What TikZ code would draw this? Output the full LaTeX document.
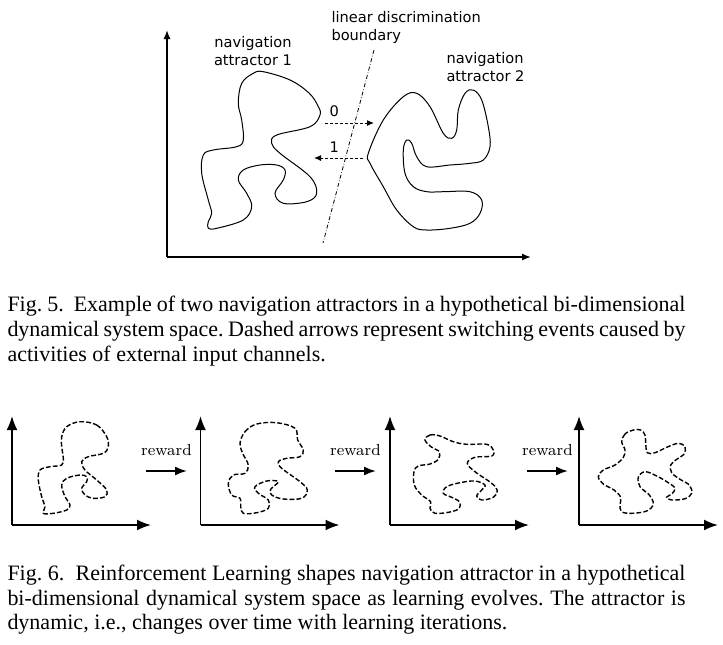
\documentclass[tikz,border=0pt]{standalone}
\usepackage{fontspec}
\newfontfamily\capfont{Liberation Serif}
\newfontfamily\lblfont{DejaVu Sans}
\usetikzlibrary{arrows.meta,positioning}
\frenchspacing

\begin{document}
\begin{tikzpicture}[x=0.5pt,y=-0.5pt,every path/.style={line width=0.5pt}]
  \tikzset{lbl/.style={font=\lblfont\fontsize{7.3}{9}\selectfont,inner sep=0pt}};
  \tikzset{capline/.style={font=\capfont\fontsize{11}{12.3}\selectfont,inner sep=0pt,anchor=base west}};
  \tikzset{attractor/.style={line width=0.5pt}};
  \tikzset{learnt/.style={line width=0.7pt,dash pattern=on 2.4pt off 1.1pt}};
  \tikzset{axis/.style={line width=0.7pt,-{Latex[length=4.5pt,width=3.5pt]}}};
  \tikzset{paxis/.style={line width=0.9pt,-{Latex[length=7pt,width=5.5pt]}}};
  \tikzset{switch/.style={dash pattern=on 1.5pt off 1pt,-{Latex[length=3.5pt,width=3pt]}}};
  \useasboundingbox (0,0) rectangle (723,644);
  % Fig. 5
  \coordinate (o) at (167,257);
  \coordinate (ytop) at (167,30);
  \coordinate (xend) at (531,257);
  \draw[axis] (o) -- (ytop);
  \draw[axis] (o) -- (xend);
  \draw[attractor] plot[smooth cycle,tension=0.6] coordinates {
    (263.3,71.7) (290,80) (309,93) (318,106) (320,115) (310,126.7) (276.7,135) (271.7,143.3)
    (280,153.3) (310,176.7) (316.7,193.3) (306.7,201.7) (283.3,203.3) (275,193.3)
    (283.3,180) (285,170) (276.7,165) (260,165) (243.3,170) (238.3,180)
    (246.7,193.3) (251.7,206.7) (243.3,220) (216.7,228.3) (208.3,228.3) (208.3,221.7)
    (211.7,213.3) (208.3,200) (201.7,173.3) (203.3,155) (213.3,150) (236.7,146.7)
    (243.3,140) (241.7,120) (238.3,103.3) (241.7,83.3) (253.3,73.3)};
  \draw[attractor] plot[smooth cycle,tension=0.6] coordinates {
    (368.3,153.3) (383.3,120) (403.3,96.7) (416.7,93.3) (430,106.7) (443.3,133.3)
    (451.7,138.3) (456.7,130) (458.3,110) (465,93.3) (473.3,90) (481.7,100)
    (488.3,126.7) (490,146.7) (483.3,160) (470,163.3) (450,165) (426.7,166.7)
    (416.7,156.7) (411.7,143.3) (406.7,140) (403.3,150) (405,173.3) (413.3,186.7)
    (426.7,191.7) (443.3,191.7) (470,191.7) (481.7,200) (480,213.3) (470,223.3)
    (450,228.3) (426.7,230) (413.3,226.7) (396.7,210) (383.3,186.7) (370,163.3)};
  \coordinate (bndtop) at (374,50);
  \coordinate (bndbot) at (323,243);
  \draw[line width=0.4pt,dash pattern=on 2pt off 1pt on 0.3pt off 1pt] (bndtop) -- (bndbot);
  \coordinate (s0a) at (325,123);
  \coordinate (s0b) at (374,123);
  \coordinate (s1a) at (363,158);
  \coordinate (s1b) at (314,158);
  \draw[switch] (s0a) -- (s0b);
  \draw[switch] (s1a) -- (s1b);
  \node[lbl,anchor=base west] (zero) at (329,116.7) {0};
  \node[lbl,anchor=base west] (one) at (329,152.7) {1};
  \node[lbl,anchor=base,align=center] (att1) at (253,65.7) {navigation\\attractor 1};
  \node[lbl,anchor=base west,align=left] (bnd) at (331,40.7) {linear discrimination\\boundary};
  \node[lbl,anchor=base west,align=left] (att2) at (446,81) {navigation\\attractor 2};
  \node[capline] (cap5a) at (7,311.7) {\makebox[339pt][s]{Fig. 5.\ \ Example of two navigation attractors in a hypothetical bi-dimensional}};
  \node[capline] (cap5b) at (7,336.5) {\makebox[339pt][s]{dynamical system space. Dashed arrows represent switching events caused by}};
  \node[capline] (cap5c) at (7,361) {activities of external input channels.};
  % Fig. 6
  \foreach \ox [count=\i] in {12,200.5,390,579}{
    \coordinate (po\i) at (\ox,525);
    \coordinate (py\i) at (\ox,416);
    \coordinate (px\i) at (\ox+139,525);
    \draw[paxis] (po\i) -- (py\i);
    \draw[paxis] (po\i) -- (px\i);
  }
  \foreach \ax [count=\i] in {146,335,527}{
    \coordinate (ra\i) at (\ax,471);
    \coordinate (rb\i) at (\ax+41,471);
    \draw[line width=0.9pt,-{Latex[length=6pt,width=4.5pt]}] (ra\i) -- (rb\i);
    \node[font=\fontsize{8}{9.6}\selectfont,inner sep=0pt,anchor=base] (rw\i) at (\ax+20.5,455) {reward};
  }
  \draw[learnt] plot[smooth cycle,tension=0.6] coordinates {
    (80,421.7) (96.7,425) (106.7,436.7) (108.3,446.7) (103.3,453.3) (88.3,456.7)
    (81.7,461.7) (85,470) (96.7,480) (106.7,490) (105,496.7) (93.3,498.3)
    (85,495) (81.7,488.3) (86.7,481.7) (86.7,476.7) (80,475) (66.7,478.3)
    (61.7,485) (65,496.7) (70,505) (66.7,510) (53.3,513.3) (43.3,513.3)
    (45,506.7) (41.7,496.7) (38.3,480) (40,470) (50,466.7) (61.7,465)
    (63.3,458.3) (61.7,446.7) (61.7,436.7) (66.7,426.7)};
  \draw[learnt] plot[smooth cycle,tension=0.6] coordinates {
    (240,443.3) (245,431.7) (256.7,424) (276.7,422.7) (295,428.3) (297.7,440)
    (303.3,450) (300,456.7) (286.7,458.3) (278.3,461.7) (281.7,468.3) (300,481.7)
    (307.3,490) (301.7,498.3) (283.3,499) (271.7,495) (270.7,489.3) (278.3,481.7)
    (266.7,481) (255,486.7) (258.3,493.3) (268.3,500) (268.3,508.3) (256.7,512.7)
    (243.3,513.3) (240.7,506.7) (240,498.3) (231.7,495) (228.3,483.3) (233.3,475)
    (245,473.3) (248.3,465) (242.7,453.3)};
  \draw[learnt] plot[smooth cycle,tension=0.6] coordinates {
    (425,440) (430,435) (440,436) (453.3,441.7) (466.7,444.3) (486.7,444.3)
    (493.3,450) (491.7,456) (475,457.3) (467.3,463.3) (475,471.7) (491.7,483.3)
    (497.3,490.7) (493.3,497.3) (481.7,500) (476.7,496) (481.7,490) (485,485)
    (475,481) (460,482.7) (446.7,486.7) (443.3,493.3) (451.7,497.3) (459.3,501.7)
    (459.3,508.3) (450,512) (435,513.3) (430,508.3) (430.7,501.7) (421.7,495)
    (414.3,485) (414,471.7) (418.3,466) (430,464) (438.3,459.3) (439.3,451.7)
    (431.7,447.3)};
  \draw[learnt] plot[smooth cycle,tension=0.6] coordinates {
    (633.3,430) (625,434) (621.7,441.7) (625,450) (623.3,457.3) (615,465)
    (603.3,470) (598.3,476.7) (603.3,484) (614,490) (620.7,497.3) (620,505)
    (621.7,511.7) (631.7,513.3) (646.7,511) (653.3,504) (649.3,495) (640,486.7)
    (638.3,477.3) (645,471.7) (656.7,476) (668.3,482.7) (675,488.3) (671.7,494)
    (666.7,497.3) (671.7,500) (685,498.7) (691.7,493.3) (689.3,485) (680,479.3)
    (671.7,472.7) (670.7,465) (676.7,459.3) (684,454) (685,446.7) (678.3,443.3)
    (666.7,447.3) (655,452.7) (647.3,452.7) (645.7,443.3) (645,435) (640.7,430)};
  \node[capline] (cap6a) at (7,580) {\makebox[339pt][s]{Fig. 6.\ \ Reinforcement Learning shapes navigation attractor in a hypothetical}};
  \node[capline] (cap6b) at (7,605) {\makebox[339pt][s]{bi-dimensional dynamical system space as learning evolves. The attractor is}};
  \node[capline] (cap6c) at (7,629) {dynamic, i.e., changes over time with learning iterations.};
\end{tikzpicture}
\end{document}
